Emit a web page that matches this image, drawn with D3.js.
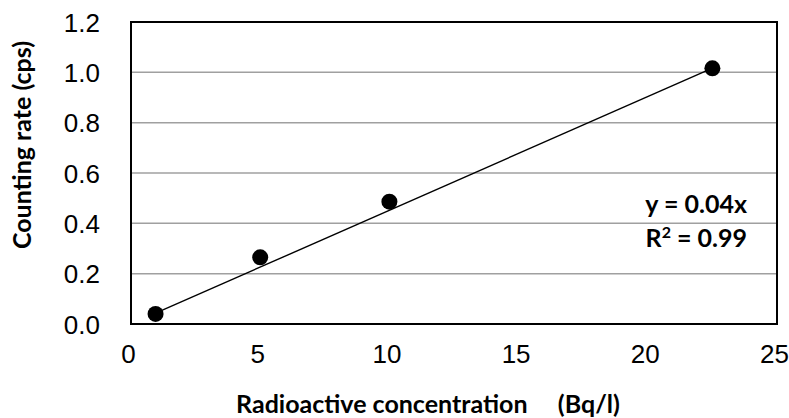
<!DOCTYPE html>
<html>
<head>
<meta charset="utf-8">
<script src="https://cdn.jsdelivr.net/npm/d3@7"></script>
<style>
  body { margin: 0; background: #fff; }
  svg { display: block; }
</style>
</head>
<body>
<div id="container"></div>
<script>
"use strict";

const width = 789;
const height = 418;
const margin = { top: 22, right: 12, bottom: 94, left: 131 };

// data
const concentration = [0.95, 5.0, 10.0, 22.5];
const countRate = [0.04, 0.265, 0.486, 1.016];
const trendSlope = 0.0452; // drawn trend line, through the origin
const xTicks = [0, 5, 10, 15, 20, 25];
const yTicks = [0, 0.2, 0.4, 0.6, 0.8, 1.0, 1.2];
const eqLine1 = "y = 0.04x";
const eqLine2 = "0.99";

const data = concentration.map((c, i) => ({ x: c, y: countRate[i] }));

const xScale = d3
  .scaleLinear()
  .domain([0, 25])
  .range([margin.left, width - margin.right]);

const yScale = d3
  .scaleLinear()
  .domain([0, 1.2])
  .range([height - margin.bottom, margin.top]);

const svg = d3
  .select("#container")
  .append("svg")
  .attr("width", width)
  .attr("height", height);

// gridlines
svg
  .append("g")
  .selectAll("line")
  .data(yTicks.filter((t) => t > 0 && t < 1.2))
  .enter()
  .append("line")
  .attr("x1", xScale(0))
  .attr("x2", xScale(25))
  .attr("y1", (d) => yScale(d))
  .attr("y2", (d) => yScale(d))
  .style("stroke", "#a0a0a0")
  .style("stroke-width", 1.5);

// plot border
svg
  .append("rect")
  .attr("x", xScale(0))
  .attr("y", yScale(1.2))
  .attr("width", xScale(25) - xScale(0))
  .attr("height", yScale(0) - yScale(1.2))
  .style("fill", "none")
  .style("stroke", "#000")
  .style("stroke-width", 2);

// axes (labels only)
const xAxis = d3.axisBottom(xScale).tickValues(xTicks).tickSize(0).tickPadding(21);
const yAxis = d3
  .axisLeft(yScale)
  .tickValues(yTicks)
  .tickSize(0)
  .tickPadding(31)
  .tickFormat(d3.format(".1f"));

const gx = svg
  .append("g")
  .attr("transform", `translate(-3, ${height - margin.bottom})`)
  .call(xAxis);
const gy = svg
  .append("g")
  .attr("transform", `translate(${margin.left}, 1)`)
  .call(yAxis);

[gx, gy].forEach((g) => {
  g.select(".domain").remove();
  g.selectAll("text")
    .style("font-family", "'Liberation Sans', Arial, sans-serif")
    .style("font-size", "26px")
    .style("fill", "#000");
});

// trend line
const xMin = d3.min(concentration);
const xMax = d3.max(concentration);
svg
  .append("line")
  .attr("x1", xScale(xMin))
  .attr("y1", yScale(trendSlope * xMin))
  .attr("x2", xScale(xMax))
  .attr("y2", yScale(trendSlope * xMax))
  .style("stroke", "#000")
  .style("stroke-width", 1.4);

// points
svg
  .selectAll("circle")
  .data(data)
  .enter()
  .append("circle")
  .attr("cx", (d) => xScale(d.x))
  .attr("cy", (d) => yScale(d.y))
  .attr("r", 8)
  .style("fill", "#000");

// equation
const eq = svg
  .append("text")
  .attr("text-anchor", "end")
  .style("font-family", "Lato, 'Open Sans', sans-serif")
  .style("font-weight", "bold")
  .style("font-size", "25px")
  .style("fill", "#000");
eq.append("tspan").attr("x", 747).attr("y", 213).text(eqLine1);
const l2 = eq.append("tspan").attr("x", 747).attr("y", 247);
l2.append("tspan").text("R");
l2.append("tspan").attr("dy", -9).style("font-size", "16px").text("2");
l2.append("tspan").attr("dy", 9).text(" = " + eqLine2);

// axis titles
svg
  .append("text")
  .attr("x", 428)
  .attr("y", 413)
  .attr("text-anchor", "middle")
  .style("white-space", "pre")
  .style("font-family", "Lato, 'Open Sans', sans-serif")
  .style("font-weight", "bold")
  .style("font-size", "25px")
  .text("Radioactive concentration     (Bq/l)");

svg
  .append("text")
  .attr("text-anchor", "middle")
  .attr("transform", `translate(31, 145) rotate(-90)`)
  .style("font-family", "Lato, 'Open Sans', sans-serif")
  .style("font-weight", "bold")
  .style("font-size", "25px")
  .text("Counting rate (cps)");
</script>
</body>
</html>
